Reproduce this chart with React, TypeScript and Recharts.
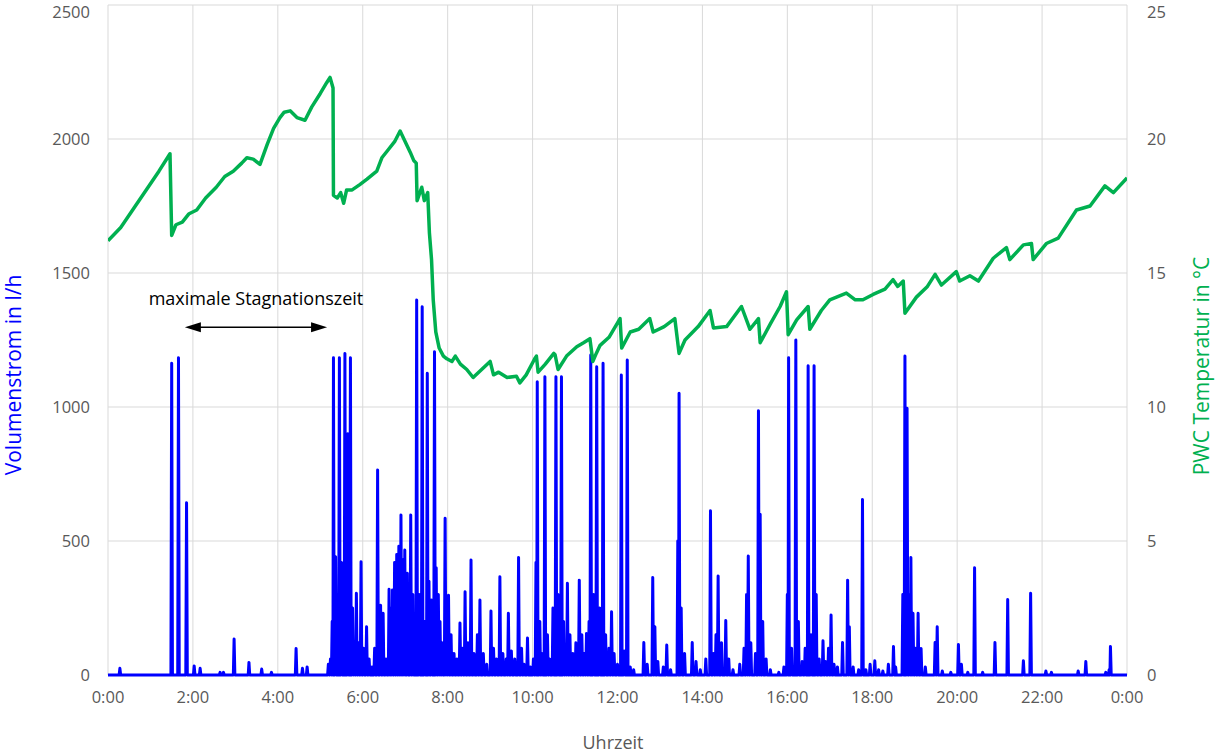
import React from "react";
import {
  ComposedChart,
  Line,
  XAxis,
  YAxis,
  CartesianGrid,
  ReferenceLine,
} from "recharts";

// Volumenstrom: Zapfspitzen (Uhrzeit in h, Wert in l/h)
const flowHours = [
  0.28, 1.5, 1.66, 1.85, 2.03, 2.17, 2.64, 2.72, 2.97, 3.32, 3.62, 3.85, 4.43, 4.58, 4.69,
  5.19, 5.24, 5.28, 5.31, 5.36, 5.45, 5.5, 5.58, 5.65, 5.71, 5.76, 5.8, 5.85, 5.9, 5.96,
  6.02, 6.09, 6.15, 6.22, 6.28, 6.35, 6.42, 6.48, 6.55, 6.62, 6.67, 6.7, 6.75, 6.8, 6.85,
  6.9, 6.95, 6.99, 7.05, 7.13, 7.18, 7.27, 7.33, 7.4, 7.46, 7.52, 7.56, 7.62, 7.69, 7.73,
  7.78, 7.82, 7.87, 7.94, 7.98, 8.02, 8.08, 8.15, 8.22, 8.29, 8.35, 8.41, 8.48, 8.55, 8.62,
  8.7, 8.76, 8.84, 8.92, 9.02, 9.08, 9.15, 9.23, 9.3, 9.38, 9.43, 9.5, 9.58, 9.67, 9.74,
  9.8, 9.88, 9.95, 10.02, 10.08, 10.11, 10.17, 10.22, 10.29, 10.35, 10.4, 10.48, 10.55, 10.6,
  10.68, 10.73, 10.78, 10.82, 10.88, 10.95, 11.02, 11.1, 11.16, 11.22, 11.27, 11.33, 11.37,
  11.44, 11.51, 11.58, 11.66, 11.72, 11.8, 11.86, 11.92, 12.0, 12.09, 12.16, 12.23, 12.3,
  12.38, 12.62, 12.7, 12.83, 12.88, 12.95, 13.08, 13.16, 13.25, 13.42, 13.45, 13.5, 13.58,
  13.76, 13.85, 13.95, 14.08, 14.19, 14.26, 14.32, 14.37, 14.45, 14.55, 14.62, 14.72, 14.88,
  14.98, 15.04, 15.08, 15.14, 15.25, 15.32, 15.36, 15.42, 15.5, 15.6, 15.8, 15.92, 16.0,
  16.03, 16.1, 16.2, 16.26, 16.35, 16.42, 16.49, 16.56, 16.63, 16.68, 16.75, 16.84, 16.9,
  16.97, 17.03, 17.1, 17.18, 17.3, 17.42, 17.46, 17.55, 17.68, 17.77, 17.85, 17.95, 18.06,
  18.15, 18.25, 18.38, 18.5, 18.55, 18.72, 18.77, 18.82, 18.88, 18.91, 18.96, 19.02, 19.08,
  19.15, 19.25, 19.48, 19.53, 19.65, 19.85, 20.03, 20.1, 20.25, 20.41, 20.6, 20.89, 21.19,
  21.56, 21.73, 22.09, 22.22, 22.85, 23.03, 23.5, 23.58, 23.61,
];
const flowValues = [
  25, 1163, 1184, 643, 34, 25, 10, 10, 134, 47, 22, 10, 99, 25, 30,
  40, 60, 200, 1184, 441, 1184, 420, 1200, 900, 1184, 250, 120, 305, 120, 423,
  100, 180, 60, 30, 100, 765, 260, 230, 60, 320, 250, 317, 420, 450, 480,
  597, 430, 466, 380, 597, 300, 1399, 300, 1374, 200, 1126, 350, 280, 1206, 400,
  300, 200, 120, 585, 290, 298, 150, 80, 60, 194, 100, 311, 120, 429, 80,
  150, 280, 80, 40, 239, 100, 60, 367, 80, 60, 230, 90, 60, 438, 100,
  40, 138, 30, 60, 420, 1094, 200, 80, 1113, 150, 60, 250, 1113, 300,
  1113, 200, 100, 342, 150, 80, 120, 354, 150, 80, 155, 200, 1194,
  300, 1150, 250, 1163, 150, 100, 236, 80, 40, 1119, 90, 1175, 30,
  20, 121, 40, 364, 180, 50, 30, 112, 20, 500, 1051, 250, 80,
  121, 50, 20, 60, 613, 80, 150, 369, 120, 203, 60, 20, 40,
  100, 300, 444, 120, 80, 986, 600, 200, 60, 20, 10, 30, 300,
  1184, 100, 1250, 200, 50, 100, 1154, 150, 1154, 300, 60, 128, 50,
  100, 224, 40, 30, 121, 354, 180, 30, 20, 655, 20, 40, 53,
  20, 15, 40, 106, 30, 300, 1190, 995, 300, 438, 230, 100, 230,
  99, 30, 121, 180, 15, 10, 114, 40, 10, 400, 10, 121, 282,
  53, 305, 15, 10, 15, 50, 10, 20, 106,
];

// PWC Temperatur (Uhrzeit in h, Wert in °C)
const tempHours = [
  0, 0.3, 0.6, 0.9, 1.2, 1.46, 1.5, 1.6, 1.75, 1.9, 2.09, 2.3, 2.55, 2.75, 2.95, 3.15, 3.27,
  3.42, 3.58, 3.75, 3.9, 4.05, 4.15, 4.29, 4.45, 4.64, 4.8, 5.0, 5.15, 5.23, 5.3, 5.31, 5.4,
  5.48, 5.55, 5.62, 5.75, 5.93, 6.1, 6.33, 6.45, 6.6, 6.75, 6.88, 7.0, 7.12, 7.2, 7.26, 7.28,
  7.39, 7.45, 7.53, 7.57, 7.62, 7.66, 7.72, 7.8, 7.9, 7.98, 8.1, 8.18, 8.3, 8.45, 8.6, 8.8,
  9.0, 9.08, 9.2, 9.4, 9.62, 9.7, 9.85, 10.05, 10.09, 10.13, 10.3, 10.5, 10.53, 10.6, 10.8,
  11.04, 11.2, 11.35, 11.42, 11.5, 11.59, 11.8, 12.06, 12.1, 12.3, 12.5, 12.76, 12.84, 13.1,
  13.35, 13.45, 13.59, 13.9, 14.18, 14.26, 14.57, 14.92, 15.12, 15.32, 15.36, 15.6, 15.83,
  15.98, 16.02, 16.22, 16.49, 16.53, 16.8, 17.0, 17.39, 17.6, 17.78, 18.02, 18.3, 18.49,
  18.6, 18.73, 18.77, 19.04, 19.3, 19.48, 19.63, 19.98, 20.06, 20.3, 20.5, 20.85, 21.16,
  21.24, 21.56, 21.75, 21.79, 22.1, 22.38, 22.81, 23.13, 23.48, 23.68, 24,
];
const tempValues = [
  16.2, 16.7, 17.4, 18.1, 18.8, 19.45, 16.4, 16.8, 16.9, 17.2, 17.35, 17.8, 18.2, 18.6, 18.8, 19.1, 19.3,
  19.25, 19.05, 19.8, 20.4, 20.8, 21.0, 21.05, 20.8, 20.7, 21.2, 21.7, 22.1, 22.3, 21.9, 17.9, 17.8,
  18.0, 17.6, 18.1, 18.1, 18.3, 18.5, 18.8, 19.3, 19.6, 19.9, 20.3, 19.9, 19.5, 19.2, 19.1, 17.7,
  18.2, 17.7, 18.0, 16.5, 15.5, 14.0, 12.8, 12.2, 11.9, 11.8, 11.7, 11.9, 11.6, 11.4, 11.1, 11.4,
  11.7, 11.2, 11.3, 11.1, 11.15, 10.9, 11.2, 11.8, 11.9, 11.3, 11.6, 12.0, 11.95, 11.4, 11.9,
  12.25, 12.4, 12.55, 11.7, 12.0, 12.3, 12.6, 13.3, 12.2, 12.8, 12.9, 13.3, 12.8, 13.0,
  13.3, 12.0, 12.5, 13.0, 13.6, 12.95, 13.0, 13.75, 12.9, 13.3, 12.4, 13.1, 13.75,
  14.3, 12.7, 13.25, 13.75, 12.9, 13.6, 14.0, 14.25, 14.0, 14.0, 14.2, 14.4, 14.75,
  14.5, 14.7, 13.5, 14.1, 14.5, 14.95, 14.55, 15.05, 14.7, 14.9, 14.7, 15.55, 15.95,
  15.5, 16.05, 16.1, 15.5, 16.1, 16.3, 17.35, 17.5, 18.25, 18.0, 18.55,
];

const hourTicks = [0, 2, 4, 6, 8, 10, 12, 14, 16, 18, 20, 22, 24];
const flowTicks = [0, 500, 1000, 1500, 2000, 2500];
const tempTicks = [0, 5, 10, 15, 20, 25];

const annotationText = "maximale Stagnationszeit";
const stagnationStart = 1.81;
const stagnationEnd = 5.16;
const stagnationLevel = 1298;

// each spike rises from and falls back to zero flow
const flowData = [{ t: 0, flow: 0 }];
flowHours.forEach((h, i) => {
  flowData.push({ t: h - 0.018, flow: 0 });
  flowData.push({ t: h, flow: flowValues[i] });
  flowData.push({ t: h + 0.018, flow: 0 });
});
flowData.push({ t: 24, flow: 0 });
flowData.sort((a, b) => a.t - b.t);

const tempData = tempHours.map((h, i) => ({ t: h, temp: tempValues[i] }));

const FONT = "'Open Sans', sans-serif";
const TICK = { fill: "#595959", fontSize: 16.5, fontFamily: FONT };

// y tick label; the top one is kept inside the picture
const YTick = ({ x, y, payload, textAnchor }: any) => (
  <text
    x={x}
    y={Math.max(y, 12)}
    dy="0.355em"
    textAnchor={textAnchor}
    fill="#595959"
    fontSize={16.5}
    fontFamily={FONT}
  >
    {payload.value}
  </text>
);

const AxisTitle = ({ text, color, px, py, rotate, size }: any) => (
  <text
    x={px}
    y={py}
    transform={rotate ? `rotate(-90 ${px} ${py})` : undefined}
    textAnchor="middle"
    dominantBaseline="central"
    fill={color}
    fontSize={size || 18}
    fontFamily={FONT}
  >
    {text}
  </text>
);

const StagnationArrow = (props: any) => {
  const { x1, y1, x2 } = props;
  const mid = (x1 + x2) / 2;
  return (
    <g>
      <line x1={x1 + 10} y1={y1} x2={x2 - 10} y2={y1} stroke="#000" strokeWidth={1.5} />
      <polygon points={`${x1},${y1} ${x1 + 16},${y1 - 5} ${x1 + 16},${y1 + 5}`} fill="#000" />
      <polygon points={`${x2},${y1} ${x2 - 16},${y1 - 5} ${x2 - 16},${y1 + 5}`} fill="#000" />
      <text x={mid} y={y1 - 22} textAnchor="middle" fill="#000" fontSize={18} fontFamily={FONT}>
        {annotationText}
      </text>
    </g>
  );
};

export default function App() {
  return (
    <div style={{ position: "absolute", left: 0, top: 0, width: 1215, height: 754, background: "#fff" }}>
      <ComposedChart width={1215} height={754} margin={{ top: 5, right: 0, bottom: 0, left: 0 }}>
        <CartesianGrid stroke="#d9d9d9" strokeWidth={1} yAxisId="left" />
        <XAxis
          dataKey="t"
          type="number"
          domain={[0, 24]}
          ticks={hourTicks}
          tickFormatter={(h: number) => `${h % 24}:00`}
          axisLine={false}
          tickLine={false}
          tickSize={8}
          tickMargin={8}
          height={79}
          tick={TICK}
          allowDataOverflow
          label={<AxisTitle text="Uhrzeit" color="#595959" px={613} py={742} />}
        />
        <YAxis
          yAxisId="left"
          domain={[0, 2500]}
          ticks={flowTicks}
          axisLine={false}
          tickLine={false}
          tickSize={8}
          tickMargin={10}
          width={108}
          tick={YTick}
          label={<AxisTitle text="Volumenstrom in l/h" color="#0000FF" px={13} py={375} rotate size={21} />}
        />
        <YAxis
          yAxisId="right"
          orientation="right"
          domain={[0, 25]}
          ticks={tempTicks}
          axisLine={false}
          tickLine={false}
          tickSize={8}
          tickMargin={12}
          width={88}
          tick={YTick}
          label={<AxisTitle text="PWC Temperatur in °C" color="#00B050" px={1201} py={366} rotate size={21} />}
        />
        <Line
          yAxisId="left"
          data={flowData}
          dataKey="flow"
          type="linear"
          stroke="#0000FF"
          strokeWidth={3}
          strokeLinejoin="round"
          dot={false}
          activeDot={false}
          isAnimationActive={false}
        />
        <Line
          yAxisId="right"
          data={tempData}
          dataKey="temp"
          type="linear"
          stroke="#00B050"
          strokeWidth={3.5}
          strokeLinejoin="round"
          dot={false}
          activeDot={false}
          isAnimationActive={false}
        />
        <ReferenceLine
          yAxisId="left"
          segment={[
            { x: stagnationStart, y: stagnationLevel },
            { x: stagnationEnd, y: stagnationLevel },
          ]}
          shape={StagnationArrow}
        />
      </ComposedChart>
    </div>
  );
}
